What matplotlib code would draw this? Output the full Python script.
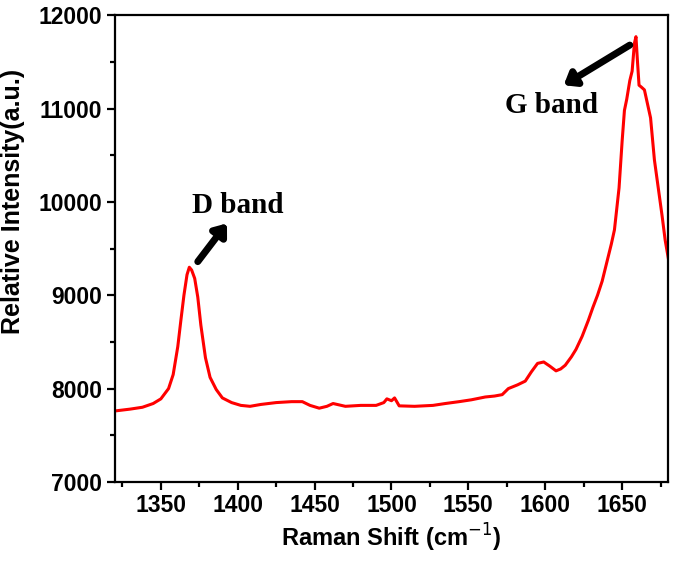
import matplotlib
matplotlib.use("Agg")
import matplotlib.pyplot as plt
from matplotlib.ticker import MultipleLocator

# Raman spectrum
shift = [1320, 1330, 1338, 1345, 1350, 1355, 1358, 1361, 1363, 1365, 1367, 1368.5,
         1370, 1372, 1374, 1376, 1379, 1382, 1386, 1390, 1396, 1402, 1408, 1415,
         1425, 1435, 1442, 1447, 1453, 1458, 1462, 1470, 1480, 1490, 1495, 1497,
         1500, 1502, 1505, 1515, 1527, 1535, 1544, 1552, 1561, 1567, 1572, 1576,
         1582, 1587, 1591, 1595, 1599, 1603, 1607, 1610, 1613, 1617, 1620, 1624,
         1628, 1631, 1634, 1637, 1640, 1643, 1645, 1648, 1650, 1651.5, 1653, 1655,
         1656.5, 1658, 1659, 1660, 1661, 1662.5, 1664.5, 1666.5, 1668.5, 1671, 1674,
         1676, 1678, 1680]
intensity = [7760, 7780, 7800, 7840, 7890, 8000, 8150, 8450, 8730, 9000, 9220, 9300,
             9270, 9180, 8980, 8680, 8330, 8120, 7990, 7900, 7850, 7820, 7810, 7830,
             7850, 7860, 7860, 7820, 7790, 7810, 7840, 7810, 7820, 7820, 7850, 7890,
             7870, 7900, 7815, 7810, 7820, 7840, 7860, 7880, 7910, 7920, 7935, 8000,
             8040, 8080, 8180, 8270, 8285, 8240, 8190, 8210, 8250, 8340, 8420, 8560,
             8730, 8870, 9000, 9150, 9350, 9550, 9700, 10150, 10650, 10980, 11100, 11300,
             11400, 11700, 11770, 11500, 11250, 11230, 11200, 11050, 10900, 10450, 10090,
             9850, 9590, 9400]

xticks = [1350, 1400, 1450, 1500, 1550, 1600, 1650]
yticks = [7000, 8000, 9000, 10000, 11000, 12000]

plt.rcParams["font.family"] = ["Liberation Sans", "DejaVu Sans"]
serif = ["Liberation Serif", "DejaVu Serif"]

fig = plt.figure(figsize=(6.75, 5.63), dpi=100)
ax = fig.add_axes([0.170, 0.144, 0.820, 0.829])

ax.plot(shift, intensity, color="#ff0000", lw=2.2)

ax.set_xlim(1320, 1680)
ax.set_ylim(7000, 12000)
ax.set_xticks(xticks)
ax.set_yticks(yticks)
ax.xaxis.set_minor_locator(MultipleLocator(25))
ax.yaxis.set_minor_locator(MultipleLocator(500))

for s in ax.spines.values():
    s.set_linewidth(1.6)
ax.tick_params(which="both", direction="out", width=1.6, top=False, right=False)
ax.tick_params(which="major", length=6, labelsize=16.5, pad=3)
ax.tick_params(which="minor", length=3.5)
for lab in ax.get_xticklabels() + ax.get_yticklabels():
    lab.set_fontweight("bold")

ax.set_xlabel("Raman Shift (cm$^{-1}$)", fontsize=17, fontweight="bold", labelpad=3)
ax.set_ylabel("Relative Intensity(a.u.)", fontsize=18, fontweight="bold")
ax.yaxis.set_label_coords(-0.163, 0.60)

# band annotations
arrow = dict(arrowstyle="-|>,head_width=0.5,head_length=0.65", color="black", lw=5,
             shrinkA=0, shrinkB=0)
ax.annotate("", xy=(1393, 9770), xytext=(1374, 9360), arrowprops=arrow)
ax.annotate("", xy=(1612, 11250), xytext=(1655, 11680), arrowprops=arrow)
ax.text(1400, 9880, "D band", ha="center", va="baseline", fontsize=21,
        fontweight="bold", family=serif)
ax.text(1604, 10950, "G band", ha="center", va="baseline", fontsize=21,
        fontweight="bold", family=serif)

fig.savefig("out.png", dpi=100)
